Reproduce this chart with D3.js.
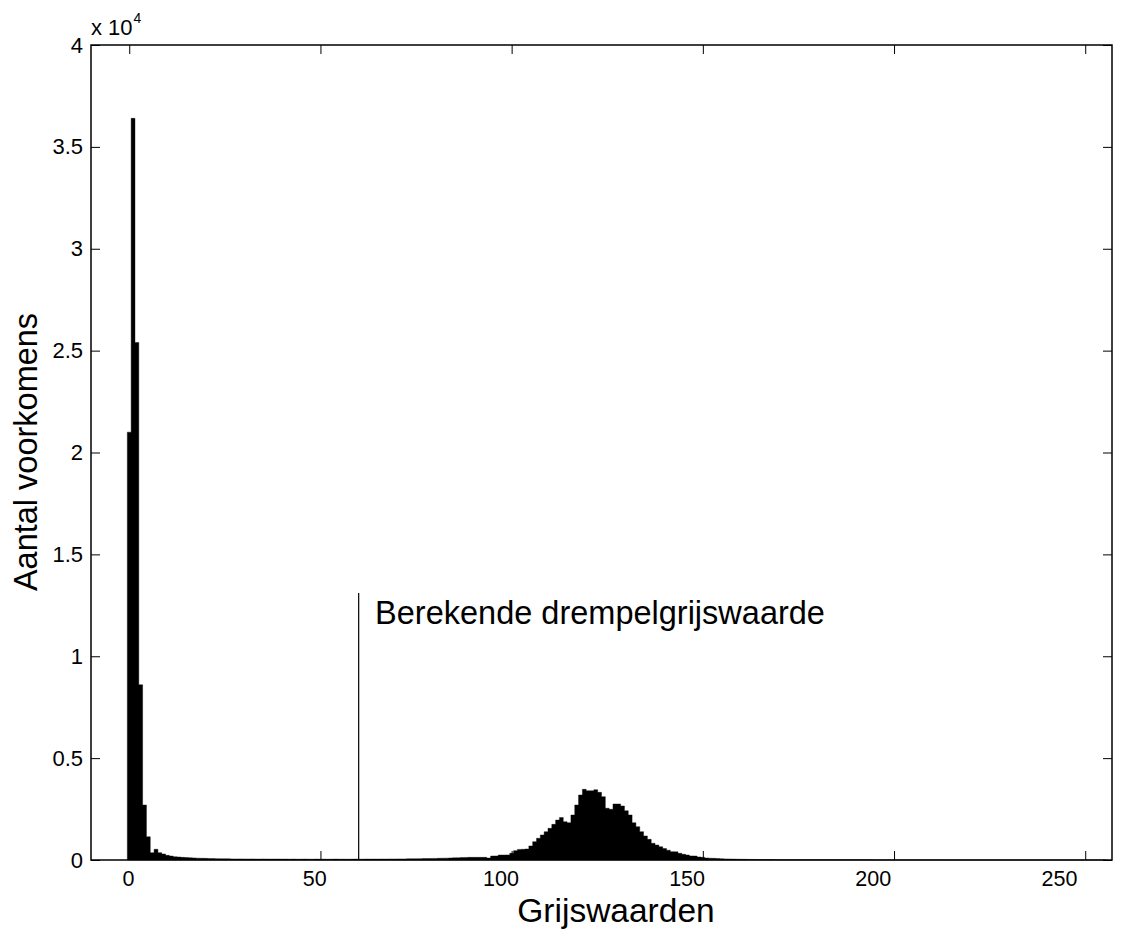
<!DOCTYPE html>
<html>
<head>
<meta charset="utf-8">
<script src="https://cdn.jsdelivr.net/npm/d3@7"></script>
<style>
  html, body { margin: 0; padding: 0; background: #fff; }
  svg { display: block; }
  text { font-family: "Liberation Sans", Arial, Helvetica, sans-serif; fill: #000; }
</style>
</head>
<body>
<svg id="chart" width="1121" height="930"></svg>
<script>
// ---- DATA ----
// grey levels 0..255
const greyLevels = d3.range(0, 256);
// histogram counts per grey level
const counts = [
  21000, 36400, 25400, 8600, 2700, 1140, 360, 525, 360, 295,
  230, 196, 160, 147, 130, 120, 110, 100, 92, 85,
  80, 74, 70, 66, 62, 60, 58, 55, 52, 55,
  50, 48, 52, 47, 45, 50, 46, 44, 48, 45,
  43, 46, 42, 44, 40, 42, 45, 41, 40, 43,
  40, 42, 39, 41, 44, 40, 42, 38, 41, 43,
  40, 42, 45, 43, 46, 44, 48, 46, 50, 48,
  52, 55, 53, 58, 60, 62, 65, 68, 70, 75,
  78, 82, 88, 92, 98, 105, 110, 118, 125, 130,
  130, 130, 130, 130, 95, 196, 200, 245, 245, 250,
  330, 460, 520, 525, 540, 690, 900, 1065, 1230, 1390,
  1555, 1750, 1960, 2080, 1880, 1830, 2210, 2700, 3190, 3470,
  3400, 3400, 3450, 3320, 3110, 2540, 2490, 2750, 2750, 2650,
  2420, 2210, 1830, 1635, 1390, 1180, 1015, 820, 736, 650,
  560, 480, 410, 400, 330, 280, 245, 200, 196, 150,
  130, 100, 90, 80, 70, 62, 55, 50, 45, 40,
  36, 33, 30, 28, 26, 24, 22, 20, 19, 18,
  17, 16, 15, 15, 14, 13, 13, 12, 12, 11,
  11, 10, 10, 10, 9, 9, 9, 8, 8, 8,
  8, 7, 7, 7, 7, 6, 6, 6, 6, 6,
  5, 5, 5, 5, 5, 5, 4, 4, 4, 4,
  4, 4, 4, 3, 3, 3, 3, 3, 3, 3,
  3, 3, 2, 2, 2, 2, 2, 2, 2, 2,
  2, 2, 2, 2, 2, 2, 1, 1, 1, 1,
  1, 1, 1, 1, 1, 1, 1, 1, 1, 1,
  1, 1, 1, 1, 1, 1
];
const xTicks = [0, 50, 100, 150, 200, 250];
const yTicks = [0, 5000, 10000, 15000, 20000, 25000, 30000, 35000, 40000];
const yTickLabels = ["0", "0.5", "1", "1.5", "2", "2.5", "3", "3.5", "4"];
const thresholdValue = 60;
const thresholdTop = 13100;
const annotationText = "Berekende drempelgrijswaarde";
const annotationPos = [64.3, 11600];
const xLabel = "Grijswaarden";
const yLabel = "Aantal voorkomens";

// ---- LAYOUT ----
const svg = d3.select("#chart");
const mLeft = 91, mRight = 1112, mTop = 45, mBottom = 860;

const x = d3.scaleLinear().domain([-10, 257]).range([mLeft, mRight]);
const y = d3.scaleLinear().domain([0, 40000]).range([mBottom, mTop]);
// tick labels in the picture sit on a slightly compressed spacing
const xLab = d3.scaleLinear().domain([0, 250]).range([128, 1059]);

const tickLen = 9;
const FONT = "Liberation Sans, Arial, sans-serif";

// bars: one step outline so adjacent bars have no seams
const p = d3.path();
p.moveTo(x(greyLevels[0] - 0.5), y(0));
greyLevels.forEach(g => {
  p.lineTo(x(g - 0.5), y(counts[g]));
  p.lineTo(x(g + 0.5), y(counts[g]));
});
p.lineTo(x(greyLevels[greyLevels.length - 1] + 0.5), y(0));
p.closePath();
svg.append("path")
  .attr("d", p.toString())
  .attr("fill", "#000")
  .attr("stroke", "#000")
  .attr("stroke-width", 0.4);

// threshold line
svg.append("line")
  .attr("x1", x(thresholdValue)).attr("x2", x(thresholdValue))
  .attr("y1", y(0)).attr("y2", y(thresholdTop))
  .attr("stroke", "#000").attr("stroke-width", 1.2);

svg.append("text")
  .attr("x", x(annotationPos[0]))
  .attr("y", y(annotationPos[1]))
  .attr("font-size", 32.5)
  .text(annotationText);

// axes: tick marks (inward) on all four sides
const axB = d3.axisBottom(x).tickValues(xTicks).tickSize(-tickLen).tickFormat("");
const axT = d3.axisTop(x).tickValues(xTicks).tickSize(-tickLen).tickFormat("");
const axL = d3.axisLeft(y).tickValues(yTicks).tickSize(-tickLen).tickFormat("");
const axR = d3.axisRight(y).tickValues(yTicks).tickSize(-tickLen).tickFormat("");

function styleAxis(g) {
  g.select(".domain").remove();
  g.selectAll(".tick line").attr("stroke", "#000").attr("stroke-width", 1);
}
svg.append("g").attr("transform", `translate(0,${mBottom})`).call(axB).call(styleAxis);
svg.append("g").attr("transform", `translate(0,${mTop})`).call(axT).call(styleAxis);
svg.append("g").attr("transform", `translate(${mLeft},0)`).call(axL).call(styleAxis);
svg.append("g").attr("transform", `translate(${mRight},0)`).call(axR).call(styleAxis);

// x tick labels
const axBL = d3.axisBottom(xLab).tickValues(xTicks).tickSize(0).tickPadding(11).tickFormat(d3.format("d"));
svg.append("g").attr("transform", `translate(0,${mBottom})`).call(axBL)
  .call(g => g.select(".domain").remove())
  .call(g => g.selectAll("text").attr("font-size", 21.5).attr("font-family", FONT).attr("fill", "#000"));

// y tick labels
const axLL = d3.axisLeft(y).tickValues(yTicks).tickSize(0).tickPadding(8)
  .tickFormat((d, i) => yTickLabels[i]);
svg.append("g").attr("transform", `translate(${mLeft},0)`).call(axLL)
  .call(g => g.select(".domain").remove())
  .call(g => g.selectAll("text").attr("font-size", 22).attr("font-family", FONT).attr("fill", "#000"));

// box
svg.append("rect")
  .attr("x", mLeft).attr("y", mTop)
  .attr("width", mRight - mLeft).attr("height", mBottom - mTop)
  .attr("fill", "none").attr("stroke", "#000").attr("stroke-width", 1.5);

// exponent label
const ex = svg.append("text").attr("x", mLeft).attr("y", 35).attr("font-size", 22);
ex.append("tspan").text("x 10");
ex.append("tspan").attr("dy", -12).attr("dx", 1).attr("font-size", 14).text("4");

// axis titles
svg.append("text")
  .attr("x", 616).attr("y", 922)
  .attr("text-anchor", "middle").attr("font-size", 33.5)
  .text(xLabel);

svg.append("text")
  .attr("transform", `translate(37,452) rotate(-90)`)
  .attr("text-anchor", "middle").attr("font-size", 32.5)
  .text(yLabel);
</script>
</body>
</html>
